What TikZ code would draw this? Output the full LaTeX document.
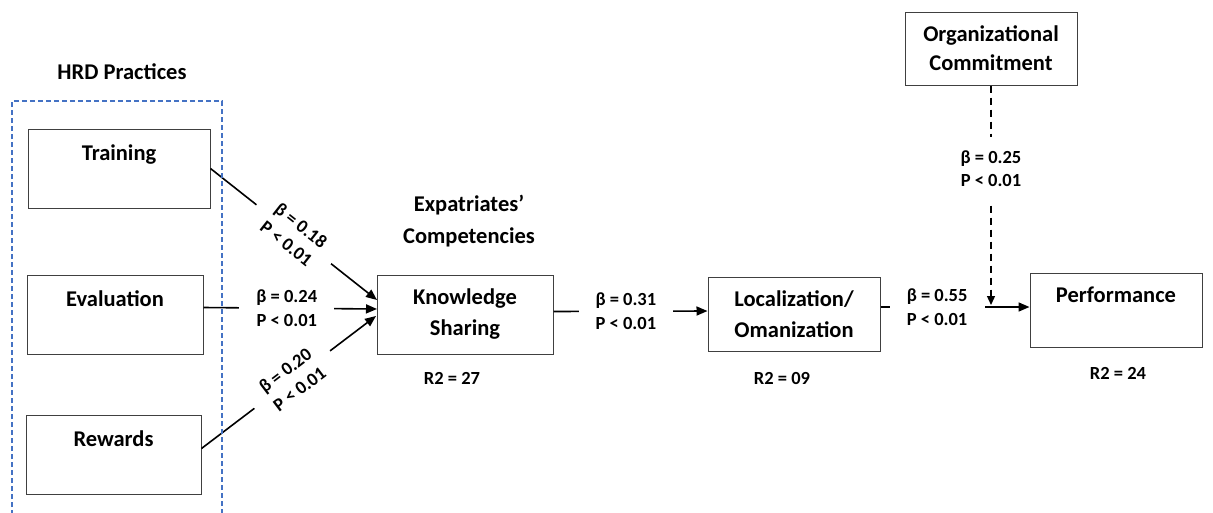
\documentclass[tikz,border=0pt]{standalone}
\usepackage{fontspec}
\setmainfont{Carlito}
\usetikzlibrary{arrows.meta}
\begin{document}
\begin{tikzpicture}[x=1pt,y=-1pt,
  box/.style={draw=black!75,line width=1pt,align=center,inner sep=0pt,
    font=\fontsize{22.5}{31}\selectfont\bfseries},
  txt/.style={align=center,inner sep=0pt,font=\fontsize{22.5}{32}\selectfont\bfseries},
  lab/.style={align=center,fill=white,inner xsep=17pt,inner ysep=8pt,
    font=\fontsize{18.5}{23.5}\selectfont\bfseries},
  rlab/.style={align=center,inner sep=0pt,font=\fontsize{18.5}{23.5}\selectfont\bfseries},
  arr/.style={line width=1.6pt,-{Triangle[length=11pt,width=9pt]}},
  darr/.style={line width=1.3pt,dash pattern=on 7pt off 5pt,-{Triangle[length=9pt,width=8pt]}},
  grp/.style={draw={rgb,255:red,68;green,114;blue,196},line width=1.4pt,dash pattern=on 5pt off 3pt}
]
\useasboundingbox (0,0) rectangle (1213,512);

% boxes
\node[box,minimum width=182pt,minimum height=79pt] (train) at (119,168.5) {Training\\~};
\node[box,minimum width=176pt,minimum height=79pt] (eval) at (115,314.5) {Evaluation\\~};
\node[box,minimum width=175pt,minimum height=79pt] (rew) at (113.5,454.5) {Rewards\\~};
\node[box,minimum width=176pt,minimum height=79pt] (ks) at (465,314.5) {Knowledge\\Sharing};
\node[box,minimum width=172pt,minimum height=74pt] (loc) at (794,314) {Localization/\\Omanization};
\node[box,minimum width=172pt,minimum height=74pt] (perf) at (1116,310) {Performance\\~};
\node[box,minimum width=172pt,minimum height=73pt,font=\fontsize{22.5}{29}\selectfont\bfseries] (org) at (991,48.5) {Organizational\\Commitment};

% titles
\node[txt] (hrd) at (122,72) {HRD Practices};
\node[txt] (expat) at (469,221) {Expatriates’\\Competencies};

% R2 labels
\node[rlab] (r1) at (452,378) {R2 = 27};
\node[rlab] (r2) at (782,378) {R2 = 09};
\node[rlab] (r3) at (1118,373) {R2 = 24};

% tips
\coordinate (t1) at (377,300);
\coordinate (t2) at (377,309);
\coordinate (t3) at (376,316);
\coordinate (join) at (991,305);

% connectors
\draw[arr] (train.east) -- node[lab,sloped,midway] (l1) {β = 0.18\\P < 0.01} (t1);
\draw[arr] ([yshift=7pt]eval.east) -- node[lab,midway,pos=0.48] (l2) {β = 0.24\\P < 0.01} (t2);
\draw[arr] ([yshift=6pt]rew.east) -- node[lab,sloped,midway,pos=0.52] (l3) {β = 0.20\\P < 0.01} (t3);
\draw[arr] ([yshift=3pt]ks.east) -- node[lab,midway,pos=0.47] (l4) {β = 0.31\\P < 0.01} ([yshift=3pt]loc.west);
\draw[arr] ([yshift=7pt]loc.east) -- node[lab,midway,pos=0.38] (l5) {β = 0.55\\P < 0.01} ([yshift=3pt]perf.west);
\draw[darr] (org.south) -- node[lab,midway,pos=0.38,inner ysep=14pt] (l6) {β = 0.25\\P < 0.01} (join);

% group frame
\draw[grp] (12,515) -- (12,101) -- (222,101) -- (222,515);
\end{tikzpicture}
\end{document}
